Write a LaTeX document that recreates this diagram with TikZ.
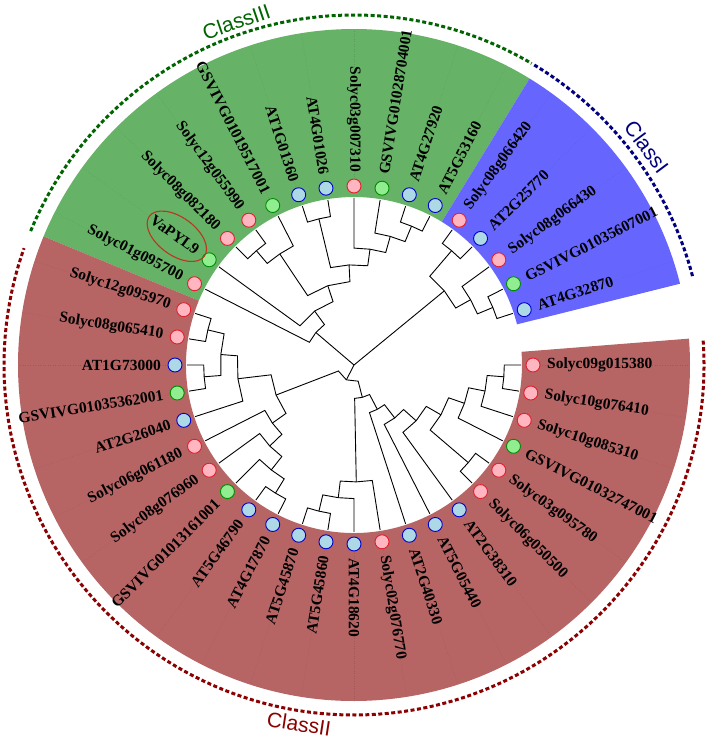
\documentclass[tikz,border=0pt]{standalone}
\usepackage{fontspec}
\setmainfont{Liberation Serif}
\newfontfamily\classfont{Liberation Sans}
\usetikzlibrary{calc}
\definecolor{bgreen}{RGB}{102,178,102}
\definecolor{bviolet}{RGB}{102,102,255}
\definecolor{bred}{RGB}{182,100,100}
\definecolor{clsgreen}{RGB}{0,100,0}
\definecolor{clsblue}{RGB}{0,0,128}
\definecolor{clsred}{RGB}{139,0,0}
\definecolor{fillp}{RGB}{255,182,193}
\definecolor{drawp}{RGB}{228,30,45}
\definecolor{fillb}{RGB}{173,216,230}
\definecolor{drawb}{RGB}{0,0,205}
\definecolor{fillg}{RGB}{144,238,144}
\definecolor{drawg}{RGB}{0,140,0}
\definecolor{ellcol}{RGB}{185,55,35}
\newcommand\tedge[2]{\draw[treeline] let \p1=(#1), \p2=(#2), \n1={veclen(\x1,\y1)}, \n2={atan2(\y2,\x2)} in (#1) -- (\n2:\n1) -- (#2);}
\begin{document}
\begin{tikzpicture}[x=1pt,y=1pt,
  treeline/.style={line width=0.9pt, black},
  leafdot/.style={circle, minimum size=14pt, inner sep=0pt, line width=0.9pt},
  lab/.style={font=\fontsize{15.5}{18}\selectfont\bfseries, inner sep=0pt},
  guide/.style={black, opacity=0.12, dotted, line width=0.5pt},
  classdash/.style={line width=3pt, dash pattern=on 4pt off 2.5pt},
  classlab/.style={font=\classfont\fontsize{21}{24}\selectfont, inner sep=0pt}]
\useasboundingbox (-354,-377) rectangle (354,365);
% colour bands
\fill[fill=bgreen] (58.5:168) arc[start angle=58.5, end angle=157.5, radius=168] -- (157.5:336) arc[start angle=157.5, end angle=58.5, radius=336] -- cycle;
\fill[fill=bviolet] (14:168) arc[start angle=14, end angle=58.5, radius=168] -- (58.5:336) arc[start angle=58.5, end angle=14, radius=336] -- cycle;
\fill[fill=bred] (-202.5:168) arc[start angle=-202.5, end angle=4.5, radius=168] -- (4.5:336) arc[start angle=4.5, end angle=-202.5, radius=336] -- cycle;
% class arcs
\draw[classdash, clsgreen] (157.5:350) arc[start angle=157.5, end angle=59.5, radius=350];
\draw[classdash, clsblue] (59:350) arc[start angle=59, end angle=14.5, radius=350];
\draw[classdash, clsred] (4:350) arc[start angle=4, end angle=-199.5, radius=350];
\node[classlab, text=clsgreen, rotate=18.9] (cl3) at (108.9:363) {ClassIII};
\node[classlab, text=clsblue, rotate=-53.3] (cl1) at (36.7:365) {ClassI};
\node[classlab, text=clsred, rotate=-8.7] (cl2) at (-98.7:363) {ClassII};
% leaves
\foreach \k/\nm/\tp in {0/Solyc09g015380/p, 1/Solyc10g076410/p, 2/Solyc10g085310/p,
  3/GSVIVG01032747001/g, 4/Solyc03g095780/p, 5/Solyc06g050500/p, 6/AT2G38310/b,
  7/AT5G05440/b, 8/AT2G40330/b, 9/Solyc02g076770/p, 10/AT4G18620/b, 11/AT5G45860/b,
  12/AT5G45870/b, 13/AT4G17870/b, 14/AT5G46790/b, 15/GSVIVG01013161001/g,
  16/Solyc08g076960/p, 17/Solyc06g061180/p, 18/AT2G26040/b, 19/GSVIVG01035362001/g,
  20/AT1G73000/b, 21/Solyc08g065410/p, 22/Solyc12g095970/p, 23/Solyc01g095700/p,
  24/VaPYL9/g, 25/Solyc08g082180/p, 26/Solyc12g055990/p, 27/GSVIVG01019517001/g,
  28/AT1G01360/b, 29/AT4G01026/b, 30/Solyc03g007310/p, 31/GSVIVG01028704001/g,
  32/AT4G27920/b, 33/AT5G53160/b, 34/Solyc08g066420/p, 35/AT2G25770/b,
  36/Solyc08g066430/p, 37/GSVIVG01035607001/g, 38/AT4G32870/b}{
  \pgfmathsetmacro\ang{-9*\k}
  \coordinate (L\k) at (\ang:167);
  \draw[guide] (\ang:188) -- (\ang:334);
  \node[leafdot, fill=fill\tp, draw=draw\tp] (d\k) at (\ang:179) {};
  \ifnum\k<11
    \node[lab, anchor=west, rotate=\ang] (t\k) at (\ang:193) {\nm};
  \else\ifnum\k>30
    \node[lab, anchor=west, rotate=\ang] (t\k) at (\ang:193) {\nm};
  \else
    \node[lab, anchor=east, rotate=\ang+180] (t\k) at (\ang:193) {\nm};
  \fi\fi
}
% VaPYL9 highlight
\draw[ellcol, line width=1.1pt, shift={(144:219)}, rotate=-36] (0,0) ellipse [x radius=34, y radius=19];
% internal nodes
\coordinate (root) at (0,0);
\coordinate (c3435) at (49.5:150.3);
\coordinate (c3738) at (22.5:150.3);
\coordinate (n36) at (29.25:133.6);
\coordinate (CI) at (39.375:116.9);
\coordinate (c3233) at (67.5:150.3);
\coordinate (n31) at (74.25:133.6);
\coordinate (nA) at (82.125:116.9);
\coordinate (c2829) at (103.5:150.3);
\coordinate (nB) at (92.8125:100.2);
\coordinate (c2526) at (130.5:150.3);
\coordinate (nD) at (123.75:133.6);
\coordinate (nC) at (108.28:83.5);
\coordinate (nF) at (126.14:66.8);
\coordinate (nG) at (139.57:50.1);
\coordinate (c01) at (-4.5:150.3);
\coordinate (nP) at (-11.25:133.6);
\coordinate (nQ) at (-19.125:116.9);
\coordinate (c45) at (-40.5:150.3);
\coordinate (nR) at (-29.81:100.2);
\coordinate (nT) at (-41.91:83.5);
\coordinate (nU) at (-52.45:66.8);
\coordinate (nV) at (-62.23:50.1);
\coordinate (c1112) at (-103.5:150.3);
\coordinate (nN) at (-96.75:133.6);
\coordinate (nO) at (-88.875:116.9);
\coordinate (nW) at (-75.55:33.4);
\coordinate (c2122) at (-193.5:150.3);
\coordinate (c1920) at (-175.5:150.3);
\coordinate (nH) at (-184.5:133.6);
\coordinate (nI) at (-173.25:116.9);
\coordinate (c1314) at (-121.5:150.3);
\coordinate (nM) at (-128.25:133.6);
\coordinate (nL) at (-136.125:116.9);
\coordinate (nK) at (-144.56:100.2);
\coordinate (nJ) at (-158.91:83.5);
\coordinate (nX) at (-117.23:16.7);
% edges
\tedge{c3435}{L34}\tedge{c3435}{L35}
\tedge{c3738}{L37}\tedge{c3738}{L38}
\tedge{n36}{L36}\tedge{n36}{c3738}
\tedge{CI}{c3435}\tedge{CI}{n36}
\tedge{c3233}{L32}\tedge{c3233}{L33}
\tedge{n31}{L31}\tedge{n31}{c3233}
\tedge{nA}{L30}\tedge{nA}{n31}
\tedge{c2829}{L28}\tedge{c2829}{L29}
\tedge{nB}{c2829}\tedge{nB}{nA}
\tedge{c2526}{L25}\tedge{c2526}{L26}
\tedge{nD}{c2526}\tedge{nD}{L27}
\tedge{nC}{nD}\tedge{nC}{nB}
\tedge{nF}{L24}\tedge{nF}{nC}
\tedge{nG}{L23}\tedge{nG}{nF}
\tedge{c01}{L0}\tedge{c01}{L1}
\tedge{nP}{c01}\tedge{nP}{L2}
\tedge{nQ}{nP}\tedge{nQ}{L3}
\tedge{c45}{L4}\tedge{c45}{L5}
\tedge{nR}{nQ}\tedge{nR}{c45}
\tedge{nT}{nR}\tedge{nT}{L6}
\tedge{nU}{nT}\tedge{nU}{L7}
\tedge{nV}{nU}\tedge{nV}{L8}
\tedge{c1112}{L11}\tedge{c1112}{L12}
\tedge{nN}{L10}\tedge{nN}{c1112}
\tedge{nO}{L9}\tedge{nO}{nN}
\tedge{nW}{nV}\tedge{nW}{nO}
\tedge{c2122}{L21}\tedge{c2122}{L22}
\tedge{c1920}{L19}\tedge{c1920}{L20}
\tedge{nH}{c2122}\tedge{nH}{c1920}
\tedge{nI}{nH}\tedge{nI}{L18}
\tedge{c1314}{L13}\tedge{c1314}{L14}
\tedge{nM}{L15}\tedge{nM}{c1314}
\tedge{nL}{L16}\tedge{nL}{nM}
\tedge{nK}{L17}\tedge{nK}{nL}
\tedge{nJ}{nI}\tedge{nJ}{nK}
\tedge{nX}{nJ}\tedge{nX}{nW}
\tedge{root}{CI}\tedge{root}{nG}\tedge{root}{nX}
\end{tikzpicture}
\end{document}
